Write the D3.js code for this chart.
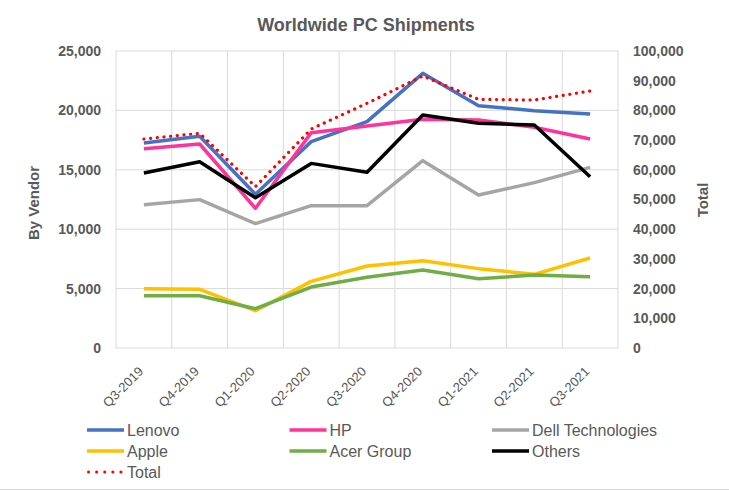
<!DOCTYPE html>
<html><head><meta charset="utf-8">
<script src="https://cdn.jsdelivr.net/npm/d3@7"></script>
<style>body{margin:0;background:#fff;}svg{display:block;font-family:"Liberation Sans",Arial,sans-serif;}</style>
</head><body><svg id="c" width="729" height="491"></svg>
<script>
const categories = ["Q3-2019","Q4-2019","Q1-2020","Q2-2020","Q3-2020","Q4-2020","Q1-2021","Q2-2021","Q3-2021"];
const lenovo = [17260, 17820, 12940, 17370, 19050, 23120, 20400, 19980, 19700];
const hp     = [16780, 17170, 11760, 18120, 18690, 19250, 19190, 18580, 17590];
const dell   = [12065, 12490, 10470, 11980, 11980, 15770, 12880, 13920, 15200];
const apple  = [4995, 4940, 3140, 5610, 6900, 7350, 6680, 6200, 7580];
const acer   = [4400, 4400, 3310, 5130, 5950, 6565, 5835, 6140, 6000];
const others = [14730, 15680, 12650, 15540, 14790, 19610, 18910, 18770, 14420];
const total  = [70370, 72280, 54320, 73740, 82380, 91580, 83730, 83500, 86530];
const leftTicks = [0, 5000, 10000, 15000, 20000, 25000];
const rightTicks = [0,10000,20000,30000,40000,50000,60000,70000,80000,90000,100000];

const series = [
  {name:"Lenovo", values:lenovo, color:"#4472C4"},
  {name:"HP", values:hp, color:"#FF3399"},
  {name:"Dell Technologies", values:dell, color:"#A5A5A5"},
  {name:"Apple", values:apple, color:"#FFC000"},
  {name:"Acer Group", values:acer, color:"#70AD47"},
  {name:"Others", values:others, color:"#000000"}
];

const svg = d3.select("#c");
const L=116, R=618, T=51, B=348;
const x = d3.scaleBand().domain(categories).range([L,R]);
const yl = d3.scaleLinear().domain([0,25000]).range([B,T]);
const yr = d3.scaleLinear().domain([0,100000]).range([B,T]);
const txt = "#595959";
const fmt = d3.format(",");

// gridlines
const g = svg.append("g");
leftTicks.forEach(t=>g.append("line").attr("x1",L).attr("x2",R).attr("y1",yl(t)).attr("y2",yl(t)).attr("stroke","#D9D9D9").attr("stroke-width",1));
categories.forEach(c=>g.append("line").attr("x1",x(c)).attr("x2",x(c)).attr("y1",T).attr("y2",B).attr("stroke","#D9D9D9"));
g.append("line").attr("x1",R).attr("x2",R).attr("y1",T).attr("y2",B).attr("stroke","#D9D9D9");

// axes
const la = svg.append("g").attr("transform",`translate(${L},0)`).call(d3.axisLeft(yl).tickValues(leftTicks).tickFormat(fmt).tickSize(0).tickPadding(15));
const ra = svg.append("g").attr("transform",`translate(${R},0)`).call(d3.axisRight(yr).tickValues(rightTicks).tickFormat(fmt).tickSize(0).tickPadding(15));
[la,ra].forEach(a=>{a.select(".domain").remove();a.selectAll("text").attr("fill",txt).attr("font-size",14).attr("font-weight","bold").attr("font-family","Liberation Sans, Arial, sans-serif");});

const xa = svg.append("g").attr("transform",`translate(0,${B})`).call(d3.axisBottom(x).tickSize(0));
xa.select(".domain").remove();
xa.selectAll("text").attr("fill",txt).attr("font-size",13).attr("font-family","Liberation Sans, Arial, sans-serif")
  .attr("text-anchor","end").attr("x",0).attr("y",0).attr("dy","0.35em").attr("transform","translate(-3,21) rotate(-45)");

// titles
svg.append("text").attr("x",366).attr("y",31).attr("text-anchor","middle").attr("fill",txt).attr("font-size",18).attr("font-weight","bold").text("Worldwide PC Shipments");
svg.append("text").attr("transform","translate(39,203) rotate(-90)").attr("text-anchor","middle").attr("fill",txt).attr("font-size",15).attr("font-weight","bold").text("By Vendor");
svg.append("text").attr("transform","translate(708,200) rotate(-90)").attr("text-anchor","middle").attr("fill",txt).attr("font-size",15).attr("font-weight","bold").text("Total");

// lines
const cx = c=>x(c)+x.bandwidth()/2;
series.forEach(s=>{
  const line = d3.line().x((d,i)=>cx(categories[i])).y(d=>yl(d));
  svg.append("path").datum(s.values).attr("d",line).attr("fill","none").attr("stroke",s.color).attr("stroke-width",3.5).attr("stroke-linejoin","round");
});
const tline = d3.line().x((d,i)=>cx(categories[i])).y(d=>yr(d));
svg.append("path").datum(total).attr("d",tline).attr("fill","none").attr("stroke","#FF0000").attr("stroke-width",3.2).attr("stroke-linecap","round").attr("stroke-dasharray","0.1,6.6");

// legend
const legend = series.concat([{name:"Total", color:"#FF0000", dotted:true}]);
legend.forEach((s,i)=>{
  const col=i%3,row=Math.floor(i/3);
  const lx=87+col*202.5, ly=430+row*21;
  const ln=svg.append("line").attr("x1",lx).attr("x2",lx+37).attr("y1",ly).attr("y2",ly).attr("stroke",s.color).attr("stroke-width",3.5);
  if(s.dotted) ln.attr("stroke-width",3).attr("stroke-linecap","round").attr("stroke-dasharray","0.1,8").attr("x1",lx+1.5).attr("x2",lx+37);
  svg.append("text").attr("x",lx+40).attr("y",ly+6).attr("fill",txt).attr("font-size",16).text(s.name);
});
svg.append("line").attr("x1",0).attr("x2",729).attr("y1",489.5).attr("y2",489.5).attr("stroke","#D9D9D9");
</script></body></html>
